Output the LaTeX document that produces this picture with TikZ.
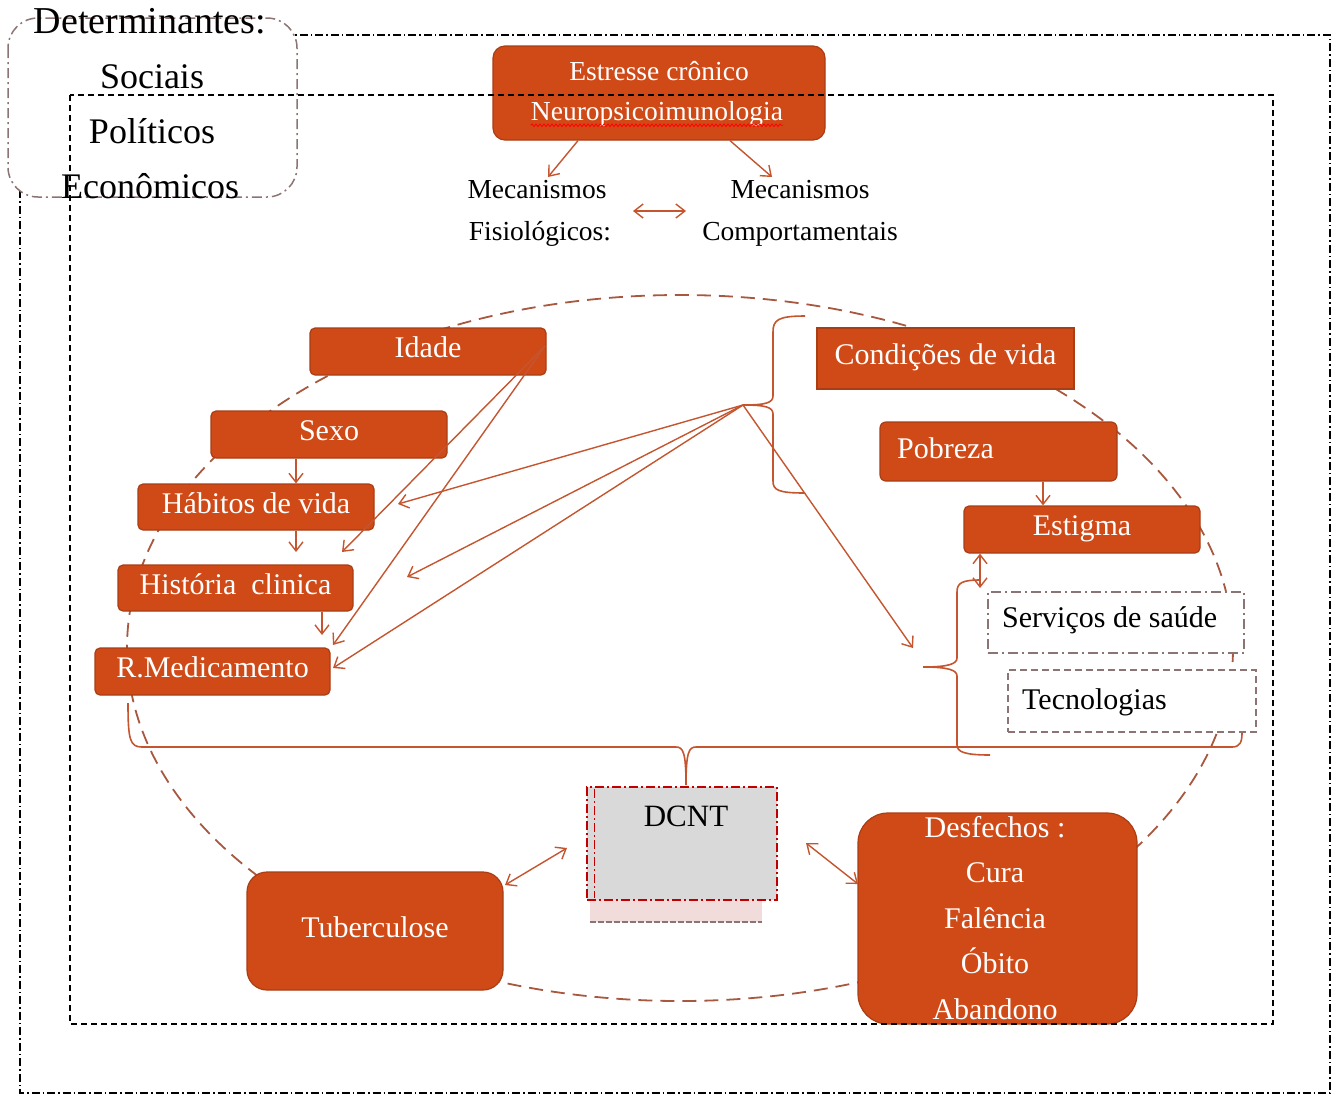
\documentclass[tikz,border=0pt]{standalone}
\usepackage{fontspec}
\setmainfont{Liberation Serif}
\usetikzlibrary{arrows.meta,decorations.pathmorphing}

\definecolor{boxfill}{HTML}{D04A18}
\definecolor{boxline}{HTML}{A93D14}
\definecolor{link}{HTML}{C4552E}
\definecolor{ring}{HTML}{A8583E}
\definecolor{frameb}{HTML}{8C7474}
\definecolor{dcntred}{HTML}{C00000}
\definecolor{dcntgray}{HTML}{D9D9D9}
\definecolor{dcntpink}{HTML}{F2DCDB}

\newcommand{\setfs}[1]{\fontsize{#1}{#1}\selectfont}

\tikzset{
  obox/.style={draw=boxline, fill=boxfill, line width=1.2pt, rounded corners=5pt,
    inner sep=0pt, text=white, font=\setfs{30}, text height=12pt, text depth=0pt},
  wbox/.style={fill=white, line width=1.3pt, inner sep=0pt},
  % text placed by its visual middle: baseline sits 0.3 em below the given point
  t/.style={font=\setfs{#1}, inner sep=0pt, anchor=base, yshift={-0.3*#1}},
  arr/.style={draw=link, line width=1.4pt, -{Straight Barb[length=9pt,width=14pt]}},
  darr/.style={draw=link, line width=1.4pt,
    {Straight Barb[length=9pt,width=14pt]}-{Straight Barb[length=9pt,width=14pt]}},
  bracepath/.style={draw=link, line width=1.6pt},
}

\begin{document}
\begin{tikzpicture}[x=1pt,y=-1pt]
\useasboundingbox (0,0) rectangle (1337,1096);

% outer frame of determinants
\draw[line width=1.2pt, dash pattern=on 8pt off 3pt on 1.5pt off 3pt] (20,35) rectangle (1330,1093);
% rounded label box of the determinants
\draw[frameb, fill=white, line width=1.5pt, rounded corners=30pt,
      dash pattern=on 10pt off 4pt on 2pt off 4pt] (8,18) rectangle (297,197);

% dashed ring
\draw[ring, line width=1.8pt, dash pattern=on 14pt off 8pt] (680,648) ellipse [x radius=553, y radius=353];

% top box
\node[obox, rounded corners=12pt, minimum width=332, minimum height=94] (stress) at (659,93) {};

% left chain
\node[obox, minimum width=236, minimum height=47] (idade) at (428,351.5) {Idade};
\node[obox, minimum width=236, minimum height=47] (sexo) at (329,434.5) {Sexo};
\node[obox, minimum width=236, minimum height=46] (hab) at (256,507) {Hábitos de vida};
\node[obox, minimum width=235, minimum height=46] (hist) at (235.5,588) {História\ \ clinica};
\node[obox, minimum width=235, minimum height=47] (rmed) at (212.5,671.5) {R.Medicamento};

% right column
\node[obox, sharp corners, minimum width=257, minimum height=61] (cond) at (945.5,358.5) {Condições de vida};
\node[obox, rounded corners=6pt, minimum width=237, minimum height=59] (pob) at (998.5,451.5) {};
\node[obox, minimum width=236, minimum height=47] (estig) at (1082,529.5) {Estigma};
\node[wbox, draw=frameb, dash pattern=on 10pt off 4pt on 2pt off 4pt, minimum width=256, minimum height=61] (serv) at (1116,622.5) {};
\node[wbox, draw=frameb, dash pattern=on 7pt off 4pt, minimum width=248, minimum height=62] (tec) at (1132,701) {};

% bottom boxes
\node[fill=dcntpink, inner sep=0pt, minimum width=172, minimum height=22] (dshadow) at (676,911) {};
\draw[frameb, line width=2pt, dash pattern=on 6pt off 2pt] (dshadow.south west) -- (dshadow.south east);
\node[draw=dcntred, fill=dcntgray, line width=1.6pt, inner sep=0pt,
      dash pattern=on 9pt off 3pt on 2pt off 3pt, minimum width=190, minimum height=113] (dcnt) at (682,843.5) {};
\draw[dcntred, line width=1.2pt, dash pattern=on 9pt off 3pt on 2pt off 3pt]
  ([xshift=8pt,yshift=-3pt]dcnt.north west) -- ([xshift=8pt,yshift=3pt]dcnt.south west);
\node[obox, rounded corners=20pt, minimum width=256, minimum height=118] (tb) at (375,931) {Tuberculose};
\node[obox, rounded corners=30pt, minimum width=279, minimum height=211] (desf) at (997.5,918.5) {};

% free ends of connectors
\coordinate (bt) at (743,405);
\coordinate (bt2) at (923,667);
\coordinate (bt3) at (686,785);
\coordinate (ic) at (545,346);
\coordinate (e1) at (398,504);
\coordinate (e2) at (407,577);
\coordinate (e3) at (333,668);
\coordinate (e4) at (913,648);
\coordinate (e5) at (342,552);
\coordinate (e6) at (333,645);
\coordinate (hx) at (296,552);
\coordinate (hy) at (322,635);
\coordinate (ex) at (980,588);
\coordinate (m1) at (548,177);
\coordinate (m2) at (772,177);
\coordinate (ma) at (633,211);
\coordinate (mb) at (686,211);
\coordinate (ta) at (505,885);
\coordinate (tb2) at (567,848);
\coordinate (da) at (806,843);
\coordinate (db) at (858,884);

% connectors
\draw[arr] (stress.south -| 578,0) -- (m1);
\draw[arr] (stress.south -| 730,0) -- (m2);
\draw[darr] (ma) -- (mb);

\draw[arr] (sexo.south -| 296,0) -- (hab.north -| 296,0);
\draw[arr] (hab.south -| 296,0) -- (hx);
\draw[arr] (hist.south -| 322,0) -- (hy);
\draw[arr] (ic) -- (e5);
\draw[arr] (ic) -- (e6);
\draw[arr] (bt) -- (e1);
\draw[arr] (bt) -- (e2);
\draw[arr] (bt) -- (e3);
\draw[arr] (bt) -- (e4);
\draw[arr] (pob.south -| 1043,0) -- (estig.north -| 1043,0);
\draw[darr] (estig.south -| 980,0) -- (ex);
\draw[darr] (ta) -- (tb2);
\draw[darr] (da) -- (db);

% braces
\draw[bracepath] (805,316) .. controls (778,316) and (773,320) .. (773,332) -- (773,396)
  .. controls (773,403) and (765,405) .. (bt) .. controls (765,405) and (773,407) .. (773,414)
  -- (773,481) .. controls (773,490) and (778,493) .. (805,493);
\draw[bracepath] (980,580) .. controls (962,580) and (957,583) .. (957,592) -- (957,658)
  .. controls (957,664) and (948,667) .. (bt2) .. controls (948,667) and (957,670) .. (957,676)
  -- (957,745) .. controls (957,752) and (965,755) .. (990,755);
\draw[bracepath] (128,703) .. controls (128,740) and (130,747) .. (142,747) -- (676,747)
  .. controls (683,747) and (686,752) .. (bt3) .. controls (686,752) and (689,747) .. (696,747)
  -- (1232,747) .. controls (1240,747) and (1242,742) .. (1242,733);

% inner frame
\draw[line width=1.5pt, dash pattern=on 6pt off 4pt] (70,95) rectangle (1273,1024);

% texts
\node[t=38] (det) at (150,22) {Determinantes:};
\node[t=36] (soc) at (152,78) {Sociais};
\node[t=36] (pol) at (152,133) {Políticos};
\node[t=36] (eco) at (150,188) {Econômicos};

\node[t=27.5, text=white] (stress1) at (659,72) {Estresse crônico};
\node[t=27.5, text=white] (stress2) at (657,112) {Neuropsicoimunologia};
\draw[red, line width=0.8pt, decorate, decoration={snake, amplitude=1.3pt, segment length=4pt}]
  ([yshift=-5pt]stress2.base west) -- ([yshift=-5pt]stress2.base east);

\node[t=27.5] (mf1) at (537,190) {Mecanismos};
\node[t=27.5] (mf2) at (540,232) {Fisiológicos:};
\node[t=27.5] (mc1) at (800,190) {Mecanismos};
\node[t=27.5] (mc2) at (800,232) {Comportamentais};

\node[t=30, text=white, anchor=base west] (pobtxt) at (897,449) {Pobreza};
\node[t=30, anchor=base west] (servtxt) at (1002,618) {Serviços de saúde};
\node[t=30, anchor=base west] (tectxt) at (1022,700) {Tecnologias};
\node[t=31] (dcnttxt) at (686,817) {DCNT};
\node[inner sep=0pt, text=white, align=center, font=\fontsize{30}{45.5}\selectfont] (desftxt) at (995,918)
  {Desfechos :\\Cura\\Falência\\Óbito\\Abandono};
\end{tikzpicture}
\end{document}
